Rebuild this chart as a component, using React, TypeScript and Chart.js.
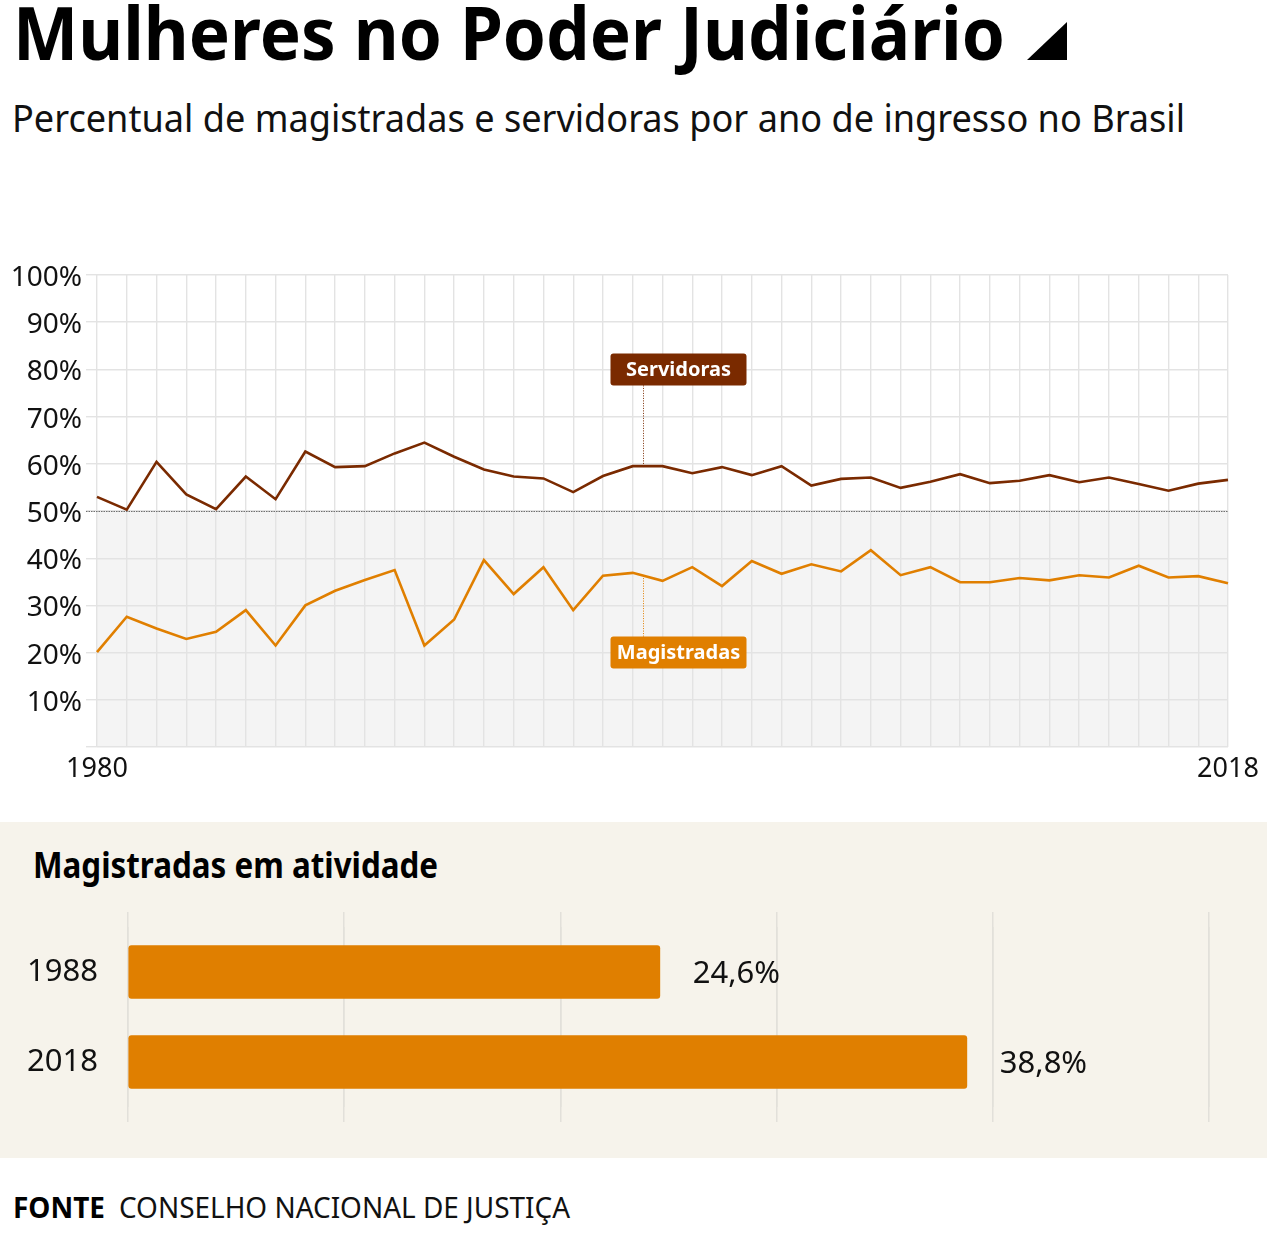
import React, { useEffect, useRef, useMemo } from 'react';
import { Chart, registerables } from 'chart.js';

Chart.register(...registerables);

// ---------- DATA ----------
const YEARS = [
  '1980', '1981', '1982', '1983', '1984', '1985', '1986', '1987', '1988', '1989',
  '1990', '1991', '1992', '1993', '1994', '1995', '1996', '1997', '1998', '1999',
  '2000', '2001', '2002', '2003', '2004', '2005', '2006', '2007', '2008', '2009',
  '2010', '2011', '2012', '2013', '2014', '2015', '2016', '2017', '2018',
];
const SERVIDORAS = [
  53.0, 50.3, 60.4, 53.5, 50.4, 57.3, 52.5, 62.6, 59.3, 59.5,
  62.2, 64.5, 61.5, 58.8, 57.3, 56.9, 54.0, 57.4, 59.5, 59.5,
  58.0, 59.3, 57.6, 59.5, 55.4, 56.8, 57.1, 54.9, 56.2, 57.8,
  55.9, 56.4, 57.6, 56.1, 57.1, 55.7, 54.3, 55.8, 56.6,
];
const MAGISTRADAS = [
  20.1, 27.6, 25.1, 22.9, 24.4, 29.0, 21.5, 30.0, 33.1, 35.4,
  37.5, 21.5, 27.0, 39.6, 32.4, 38.1, 29.0, 36.3, 36.9, 35.2,
  38.1, 34.1, 39.4, 36.7, 38.7, 37.2, 41.7, 36.4, 38.1, 34.9,
  34.9, 35.8, 35.3, 36.4, 35.9, 38.4, 35.9, 36.2, 34.7,
];
const SHOWN_YEAR_LABELS = ['1980', '2018'];

// annotations (label, position on the year axis as index, box value, value where the leader line ends)
const ANNOT_LABELS = ['Servidoras', 'Magistradas'];
const ANNOT_INDEX = [18.33, 18.33];
const ANNOT_BOX_VALUE = [80, 20];
const ANNOT_POINT_VALUE = [59.5, 36.3];

const BAR_CATEGORIES = ['1988', '2018'];
const BAR_VALUES = [24.6, 38.8];

// ---------- STYLE ----------
const FONT = '"Noto Sans", "Open Sans", sans-serif';
const C_SERV = '#7a2a00';
const C_MAG = '#e07f00';
const GRID = '#e3e3e3';
const BEIGE = '#f6f3eb';

function FitText(props: {
  text: string; left: number; top: number; size: number; weight?: number;
  width: number; color?: string;
}) {
  const { text, left, top, size, weight = 400, width, color = '#000' } = props;
  const scale = useMemo(() => {
    const c = document.createElement('canvas').getContext('2d');
    if (!c) return 1;
    c.font = `${weight} ${size}px ${FONT}`;
    const w = c.measureText(text).width;
    return w > 0 ? width / w : 1;
  }, [text, size, weight, width]);
  return (
    <div
      style={{
        position: 'absolute', left, top, fontFamily: FONT, fontSize: size,
        fontWeight: weight, lineHeight: `${size}px`, whiteSpace: 'nowrap', color,
        transform: `scaleX(${scale})`, transformOrigin: '0 0',
      }}
    >
      {text}
    </div>
  );
}

function LineChart() {
  const ref = useRef<HTMLCanvasElement>(null);
  useEffect(() => {
    if (!ref.current) return;
    const plugin = {
      id: 'decor',
      beforeDraw(chart: any) {
        const { ctx, chartArea, scales } = chart;
        const y = scales.y;
        const t = y.getPixelForValue(50);
        const b = y.getPixelForValue(0);
        ctx.save();
        ctx.fillStyle = '#f4f4f4';
        ctx.fillRect(chartArea.left, t, chartArea.right - chartArea.left, b - t);
        ctx.restore();
      },
      beforeDatasetsDraw(chart: any) {
        const { ctx, chartArea, scales } = chart;
        const y50 = Math.round(scales.y.getPixelForValue(50)) + 0.5;
        ctx.save();
        ctx.setLineDash([1.5, 1]);
        ctx.strokeStyle = '#6e6e6e';
        ctx.lineWidth = 1.2;
        ctx.beginPath();
        ctx.moveTo(chartArea.left - 11, y50);
        ctx.lineTo(chartArea.right, y50);
        ctx.stroke();
        ctx.restore();
      },
      afterDatasetsDraw(chart: any) {
        const { ctx, scales } = chart;
        const colors = [C_SERV, C_MAG];
        ANNOT_LABELS.forEach((label, i) => {
          const xl = Math.round(scales.x.getPixelForValue(ANNOT_INDEX[i])) + 0.5;
          const yb = scales.y.getPixelForValue(ANNOT_BOX_VALUE[i]);
          const yp = scales.y.getPixelForValue(ANNOT_POINT_VALUE[i]);
          const bw = 136, bh = 32;
          const bx = xl - 33;
          const by = yb - bh / 2;
          ctx.save();
          ctx.setLineDash([1, 1.5]);
          ctx.strokeStyle = colors[i];
          ctx.lineWidth = 1;
          ctx.beginPath();
          const from = yp < yb ? by : by + bh;
          ctx.moveTo(xl, from);
          ctx.lineTo(xl, yp);
          ctx.stroke();
          ctx.setLineDash([]);
          ctx.fillStyle = colors[i];
          ctx.beginPath();
          ctx.roundRect(bx, by, bw, bh, 3);
          ctx.fill();
          ctx.fillStyle = '#fff';
          ctx.font = `bold 20px ${FONT}`;
          ctx.textAlign = 'center';
          ctx.textBaseline = 'middle';
          ctx.fillText(label, bx + bw / 2, yb + 1);
          ctx.restore();
        });
      },
    };
    const chart = new Chart(ref.current, {
      type: 'line',
      data: {
        labels: YEARS,
        datasets: [
          { label: 'Servidoras', data: SERVIDORAS, borderColor: C_SERV, borderWidth: 2.6, pointRadius: 0, tension: 0 },
          { label: 'Magistradas', data: MAGISTRADAS, borderColor: C_MAG, borderWidth: 2.6, pointRadius: 0, tension: 0 },
        ],
      },
      options: {
        responsive: false,
        animation: false,
        events: [],
        layout: { padding: { left: 0, right: 39, top: 35, bottom: 0 } },
        plugins: { legend: { display: false }, tooltip: { enabled: false } },
        scales: {
          x: {
            type: 'category',
            offset: false,
            grid: { color: GRID, lineWidth: 1.4, drawTicks: false },
            border: { display: false },
            ticks: {
              autoSkip: false, maxRotation: 0, padding: 6, color: '#111',
              font: { family: FONT, size: 27 },
              callback: function (this: any, v: any) {
                const l = YEARS[v as number];
                return SHOWN_YEAR_LABELS.includes(l) ? l : '';
              },
            },
            afterFit: (s: any) => { s.height = 53; },
          },
          y: {
            min: 0, max: 100,
            grid: { color: GRID, lineWidth: 1.4, drawTicks: true, tickLength: 11 },
            border: { display: false },
            ticks: {
              stepSize: 10, padding: 4, color: '#111', labelOffset: 3,
              font: { family: FONT, size: 28 },
              callback: (v: any) => (v === 0 ? '' : `${v}%`),
            },
            afterFit: (s: any) => { s.width = 97; },
          },
        },
      },
      plugins: [plugin],
    });
    return () => chart.destroy();
  }, []);
  return (
    <canvas ref={ref} width={1267} height={560}
      style={{ position: 'absolute', left: 0, top: 240, width: 1267, height: 560 }} />
  );
}

function BarChart() {
  const ref = useRef<HTMLCanvasElement>(null);
  useEffect(() => {
    if (!ref.current) return;
    const plugin = {
      id: 'values',
      afterDatasetsDraw(chart: any) {
        const { ctx } = chart;
        const meta = chart.getDatasetMeta(0);
        ctx.save();
        ctx.fillStyle = '#111';
        ctx.font = `31px ${FONT}`;
        ctx.textAlign = 'left';
        ctx.textBaseline = 'middle';
        meta.data.forEach((bar: any, i: number) => {
          ctx.fillText(`${BAR_VALUES[i].toFixed(1).replace('.', ',')}%`, bar.x + 33, bar.y + 2);
        });
        ctx.restore();
      },
    };
    const gridOpts = { color: '#e2e0da', lineWidth: 1.5, drawTicks: true, tickLength: 15 };
    const fixH = (s: any) => { s.height = 15; s.paddingLeft = 0; s.paddingRight = 0; };
    const chart = new Chart(ref.current, {
      type: 'bar',
      data: {
        labels: BAR_CATEGORIES,
        datasets: [{ data: BAR_VALUES, backgroundColor: C_MAG, barThickness: 53, borderRadius: 3, borderSkipped: false }],
      },
      options: {
        indexAxis: 'y',
        responsive: false,
        animation: false,
        events: [],
        layout: { padding: { left: 0, right: 58, top: 12, bottom: 18 } },
        plugins: { legend: { display: false }, tooltip: { enabled: false } },
        scales: {
          x: {
            min: 0, max: 50,
            grid: gridOpts,
            border: { display: false },
            ticks: { display: false, stepSize: 10 },
            afterFit: fixH,
          },
          x2: {
            type: 'linear', position: 'top', axis: 'x',
            min: 0, max: 50,
            grid: gridOpts,
            border: { display: false },
            ticks: { display: false, stepSize: 10 },
            afterFit: fixH,
          },
          y: {
            grid: { display: false, drawTicks: false },
            border: { display: false },
            ticks: { padding: 30, color: '#111', font: { family: FONT, size: 31 } },
            afterFit: (s: any) => { s.width = 128; s.paddingTop = 0; s.paddingBottom = 0; },
          },
        },
      },
      plugins: [plugin],
    });
    return () => chart.destroy();
  }, []);
  return (
    <canvas ref={ref} width={1267} height={240}
      style={{ position: 'absolute', left: 0, top: 900, width: 1267, height: 240 }} />
  );
}

export default function App() {
  return (
    <div style={{ position: 'relative', width: 1267, height: 1233, background: '#fff', overflow: 'hidden' }}>
      <style>{'body{margin:0;}'}</style>
      <FitText text="Mulheres no Poder Judiciário" left={13} top={-5} size={74} weight={700} width={992} />
      <div style={{
        position: 'absolute', left: 1027, top: 22, width: 40, height: 38, background: '#000',
        clipPath: 'polygon(0 100%, 100% 0, 100% 100%)',
      }} />
      <FitText text="Percentual de magistradas e servidoras por ano de ingresso no Brasil"
        left={12} top={98} size={38} width={1173} color="#111" />
      <LineChart />
      <div style={{ position: 'absolute', left: 0, top: 822, width: 1267, height: 336, background: BEIGE }} />
      <FitText text="Magistradas em atividade" left={33} top={847} size={36} weight={700} width={405} />
      <BarChart />
      <FitText text="FONTE" left={13} top={1192} size={29} weight={700} width={92} />
      <FitText text="CONSELHO NACIONAL DE JUSTIÇA" left={119} top={1192} size={29} width={451} color="#111" />
    </div>
  );
}
